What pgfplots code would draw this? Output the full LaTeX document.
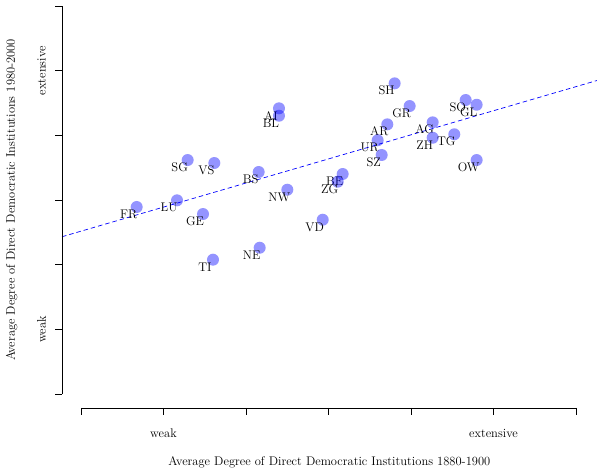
\documentclass[border=0pt]{standalone}
\usepackage{pgfplots}
\pgfplotsset{compat=1.18}
\usepackage{pgfplotstable}

% canton scores: direct democracy 1880-1900 (x) vs 1980-2000 (y)
\pgfplotstableread{
x      y      label
2.400  4.418  AI
2.400  4.303  BL
1.293  3.618  SG
1.616  3.572  VS
2.154  3.433  BS
2.501  3.159  NW
1.164  2.995  LU
0.675  2.892  FR
1.479  2.783  GE
2.166  2.262  NE
1.600  2.077  TI
3.802  4.804  SH
3.984  4.453  GR
4.663  4.546  SO
4.796  4.473  GL
3.713  4.170  AR
4.263  4.201  AG
4.525  4.016  TG
4.263  3.963  ZH
3.596  3.923  UR
3.645  3.696  SZ
4.796  3.618  OW
3.172  3.402  BE
3.112  3.283  ZG
2.930  2.695  VD
}\cantons

\begin{document}
\begin{tikzpicture}[font=\fontsize{12.5}{14.5}\selectfont]
\begin{axis}[
  x=82.5pt, y=64.67pt,
  xmin=-0.23, xmax=6.255, ymin=-0.2165, ymax=6.093,
  hide axis, clip=false,
]
% fitted regression line
\addplot[blue, line width=0.7pt, dash pattern=on 4.5pt off 3pt]
  coordinates {(-0.23,2.432) (6.255,4.848)};

% cantons
\addplot[only marks, mark=*, mark size=6pt, draw=none,
  mark options={draw=none, fill=blue, fill opacity=0.42, draw opacity=0},
  nodes near coords, point meta=explicit symbolic,
  nodes near coords style={anchor=center, xshift=-8pt, yshift=-7.3pt,
    black, text opacity=1, fill opacity=1}]
  table[x=x, y=y, meta=label] {\cantons};

% range-frame axes
\draw[line width=0.7pt] (axis cs:0,-0.2165) -- (axis cs:6,-0.2165);
\pgfplotsinvokeforeach{0,...,6}{
  \draw[line width=0.7pt] (axis cs:#1,-0.2165) -- ++(0pt,-7pt);
}
\draw[line width=0.7pt] (axis cs:-0.23,0) -- (axis cs:-0.23,6);
\pgfplotsinvokeforeach{0,...,6}{
  \draw[line width=0.7pt] (axis cs:-0.23,#1) -- ++(-7pt,0pt);
}

\node at ([yshift=-25pt]axis cs:1,-0.2165) {weak};
\node at ([yshift=-25pt]axis cs:5,-0.2165) {extensive};
\node at ([yshift=-54pt]axis cs:3.01,-0.2165) {Average Degree of Direct Democratic Institutions 1880-1900};

\node[rotate=90] at ([xshift=-20.5pt]axis cs:-0.23,5) {extensive};
\node[rotate=90] at ([xshift=-20.5pt]axis cs:-0.23,1) {weak};
\node[rotate=90] at ([xshift=-50.3pt]axis cs:-0.23,3) {Average Degree of Direct Democratic Institutions 1980-2000};

\coordinate (bl) at (axis cs:-0.982,-1.175);
\coordinate (tr) at (axis cs:6.255,6.093);
\end{axis}
\pgfresetboundingbox
\path[use as bounding box] (bl) rectangle (tr);
\end{tikzpicture}
\end{document}
